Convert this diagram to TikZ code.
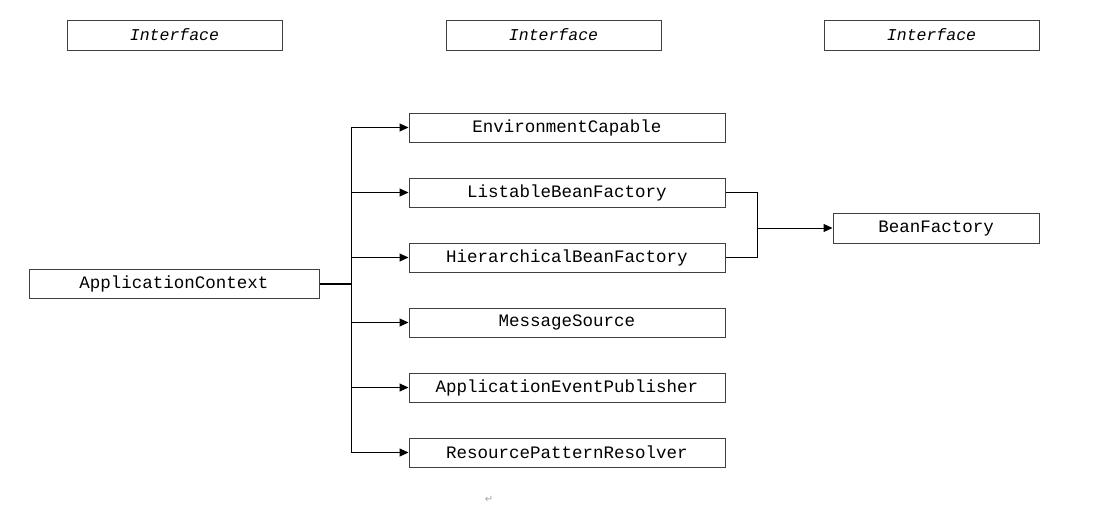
\documentclass[tikz,border=0pt]{standalone}
\usepackage{fontspec}
\setmonofont{Liberation Mono}
\newfontfamily\markfont{DejaVu Sans}
\usetikzlibrary{arrows.meta, positioning}
\definecolor{boxline}{HTML}{404040}
\definecolor{markgray}{HTML}{A0A0A0}

\tikzset{
  classbox/.style={draw=boxline, line width=1pt, fill=white, minimum width=316pt, minimum height=29pt, inner sep=0pt, font=\fontsize{17.5}{17.5}\selectfont\ttfamily},
  headbox/.style={draw=boxline, line width=1pt, minimum width=215pt, minimum height=30pt, inner sep=0pt, font=\fontsize{16.5}{16.5}\selectfont\ttfamily\itshape},
  link/.style={line width=1pt, -{Triangle[length=9pt, width=8pt]}}
}

\begin{document}
\begin{tikzpicture}[x=1pt, y=-1pt]
  % Page frame
  \useasboundingbox (0,0) rectangle (1107,507);

  % Column headers
  \node[headbox] (headleft) at (174.5, 35) {Interface};
  \node[headbox] (headmid) at (553.5, 35) {Interface};
  \node[headbox] (headright) at (931.5, 35) {Interface};

  % Root interface
  \node[classbox, minimum width=290pt] (appctx) at (174, 283.5) {ApplicationContext};

  % Parent interfaces
  \node[classbox] (envcap) at (567, 127.5) {EnvironmentCapable};
  \node[classbox] (listable) at (567, 192.5) {ListableBeanFactory};
  \node[classbox] (hierarch) at (567, 257.5) {HierarchicalBeanFactory};
  \node[classbox] (msgsrc) at (567, 322.5) {MessageSource};
  \node[classbox] (evtpub) at (567, 387.5) {ApplicationEventPublisher};
  \node[classbox] (respat) at (567, 452.5) {ResourcePatternResolver};

  % Base interface
  \node[classbox, minimum width=206pt, minimum height=30pt] (beanfac) at (936, 228) {BeanFactory};

  % Trunk from the root
  \coordinate (trunktop) at (351, 127.5);
  \coordinate (trunkbot) at (351, 452.5);
  \coordinate (trunkmid) at (351, 283.5);
  \draw[line width=1pt] (trunktop) -- (trunkbot);
  \draw[line width=2pt] (appctx.east) -- (trunkmid);

  % Branches
  \foreach \target in {envcap, listable, hierarch, msgsrc, evtpub, respat}
    \draw[link] (trunktop |- \target.west) -- (\target.west);

  % Join to BeanFactory
  \coordinate (joinmid) at (757, 228);
  \draw[line width=1pt] (listable.east) -| (joinmid) |- (hierarch.east);
  \draw[link] (joinmid) -- (beanfac.west);

  % Paragraph mark
  \node[markgray, font=\fontsize{10}{10}\selectfont\markfont] (parmark) at (489, 499) {↵};
\end{tikzpicture}
\end{document}
